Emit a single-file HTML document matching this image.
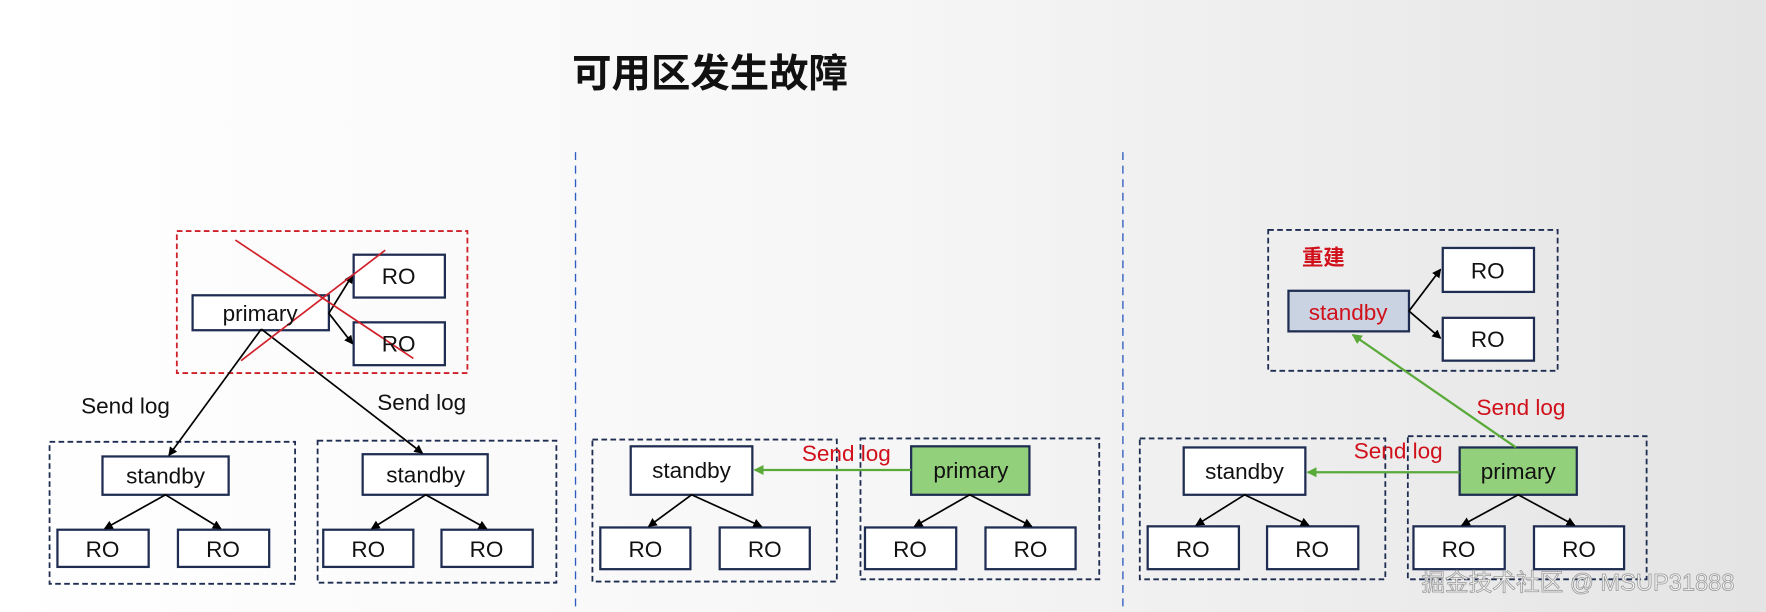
<!DOCTYPE html>
<html><head><meta charset="utf-8"><style>
html,body{margin:0;padding:0;width:1766px;height:612px;overflow:hidden}
svg{display:block;font-family:"Liberation Sans","Noto Sans CJK SC",sans-serif}
</style></head><body>
<svg width="1766" height="612" viewBox="0 0 1568 543" preserveAspectRatio="none" xmlns="http://www.w3.org/2000/svg">
<defs>
<linearGradient id="bg" x1="0" x2="1" y1="0" y2="0"><stop offset="0" stop-color="#ffffff"/><stop offset="0.5" stop-color="#f6f6f6"/><stop offset="1" stop-color="#e4e4e4"/></linearGradient>
<marker id="ak" markerWidth="8" markerHeight="8" refX="7" refY="4" orient="auto" markerUnits="userSpaceOnUse"><path d="M0,0 L8,4 L0,8 z" fill="#000"/></marker>
<marker id="ag" markerWidth="9" markerHeight="9" refX="8" refY="4.5" orient="auto" markerUnits="userSpaceOnUse"><path d="M0,0 L9,4.5 L0,9 z" fill="#5aaa3a"/></marker>
</defs>
<rect width="1568" height="543" fill="url(#bg)"/>
<text x="508" y="77" font-size="35" font-weight="bold" fill="#111">可用区发生故障</text>
<g stroke="#2f5cc0" stroke-width="1.2" stroke-dasharray="7,5"><line x1="511" y1="135" x2="511" y2="540"/><line x1="997" y1="135" x2="997" y2="540"/></g>
<g fill="none" stroke-width="1.6" stroke-dasharray="5,3">
<rect x="157" y="205" width="258" height="126" stroke="#d0202a"/>
<g stroke="#1f2d52"><rect x="44" y="392" width="218" height="126"/><rect x="282" y="391" width="212" height="126"/>
<rect x="526" y="390" width="217" height="126"/><rect x="764" y="389" width="212" height="125"/>
<rect x="1012" y="389" width="218" height="125"/><rect x="1250" y="387" width="212" height="127"/><rect x="1126" y="204" width="257" height="125"/></g>
</g>
<g stroke="#1f2d52" stroke-width="2" fill="#fff">
<rect x="171" y="262" width="121" height="31"/><rect x="314" y="226" width="81" height="38"/><rect x="314" y="286" width="81" height="38"/>
<rect x="91" y="405" width="112" height="34"/><rect x="322" y="403" width="111" height="36"/>
<rect x="51" y="470" width="81" height="33"/><rect x="158" y="470" width="81" height="33"/><rect x="287" y="470" width="80" height="33"/><rect x="392" y="470" width="81" height="33"/>
<rect x="560" y="396" width="108" height="43"/><rect x="809" y="396" width="105" height="43" fill="#93d07b"/>
<rect x="533" y="468" width="80" height="37"/><rect x="639" y="468" width="80" height="37"/><rect x="768" y="468" width="81" height="37"/><rect x="875" y="468" width="80" height="37"/>
<rect x="1051" y="397" width="108" height="42"/><rect x="1296" y="397" width="104" height="42" fill="#93d07b"/>
<rect x="1019" y="467" width="81" height="38"/><rect x="1125" y="467" width="81" height="38"/><rect x="1255" y="467" width="81" height="38"/><rect x="1362" y="467" width="80" height="38"/>
<rect x="1144" y="258" width="107" height="36" fill="#c9d3e2"/><rect x="1281" y="220" width="81" height="39"/><rect x="1281" y="282" width="81" height="38"/>
</g>
<g stroke="#000" stroke-width="1.5" fill="none" marker-end="url(#ak)">
<line x1="292" y1="278" x2="313" y2="244"/><line x1="292" y1="278" x2="313" y2="305"/>
<line x1="232" y1="292" x2="150" y2="404"/><line x1="232" y1="292" x2="375" y2="402"/>
<line x1="147" y1="439" x2="93" y2="469"/><line x1="147" y1="439" x2="196" y2="469"/>
<line x1="378" y1="439" x2="330" y2="469"/><line x1="378" y1="439" x2="432" y2="469"/>
<line x1="614" y1="439" x2="576" y2="467"/><line x1="614" y1="439" x2="676" y2="467"/>
<line x1="861" y1="439" x2="812" y2="467"/><line x1="861" y1="439" x2="916" y2="467"/>
<line x1="1105" y1="439" x2="1062" y2="466"/><line x1="1105" y1="439" x2="1162" y2="466"/>
<line x1="1348" y1="439" x2="1298" y2="466"/><line x1="1348" y1="439" x2="1398" y2="466"/>
<line x1="1251" y1="276" x2="1279" y2="239"/><line x1="1251" y1="276" x2="1279" y2="300"/>
</g>
<g stroke="#d0202a" stroke-width="1.5"><line x1="209" y1="213" x2="367" y2="318"/><line x1="342" y1="222" x2="214" y2="320"/></g>
<g stroke="#5aaa3a" stroke-width="2" marker-end="url(#ag)"><line x1="809" y1="417" x2="670" y2="417"/><line x1="1296" y1="419" x2="1161" y2="419"/><line x1="1346" y1="397" x2="1201" y2="297"/></g>
<g font-size="20" fill="#111">
<text x="231" y="285" text-anchor="middle">primary</text>
<text x="354" y="252" text-anchor="middle">RO</text><text x="354" y="312" text-anchor="middle">RO</text>
<text x="147" y="429" text-anchor="middle">standby</text><text x="378" y="428" text-anchor="middle">standby</text>
<text x="91" y="494" text-anchor="middle">RO</text><text x="198" y="494" text-anchor="middle">RO</text><text x="327" y="494" text-anchor="middle">RO</text><text x="432" y="494" text-anchor="middle">RO</text>
<text x="614" y="424" text-anchor="middle">standby</text><text x="862" y="424" text-anchor="middle">primary</text>
<text x="573" y="494" text-anchor="middle">RO</text><text x="679" y="494" text-anchor="middle">RO</text><text x="808" y="494" text-anchor="middle">RO</text><text x="915" y="494" text-anchor="middle">RO</text>
<text x="1105" y="425" text-anchor="middle">standby</text><text x="1348" y="425" text-anchor="middle">primary</text>
<text x="1059" y="494" text-anchor="middle">RO</text><text x="1165" y="494" text-anchor="middle">RO</text><text x="1295" y="494" text-anchor="middle">RO</text><text x="1402" y="494" text-anchor="middle">RO</text>
<text x="1321" y="247" text-anchor="middle">RO</text><text x="1321" y="308" text-anchor="middle">RO</text>
<text x="72" y="367">Send log</text><text x="335" y="364">Send log</text>
</g>
<g font-size="20" fill="#d0101a">
<text x="1197" y="284" text-anchor="middle">standby</text>
<text x="712" y="409">Send log</text><text x="1202" y="407">Send log</text><text x="1311" y="368">Send log</text>
<text x="1156" y="235" font-weight="bold" font-size="19">重建</text>
</g>
<text x="1262" y="524" font-size="21" fill="#f4f4f4" stroke="#999" stroke-width="0.7">掘金技术社区 @ MSUP31888</text>
</svg>
</body></html>
